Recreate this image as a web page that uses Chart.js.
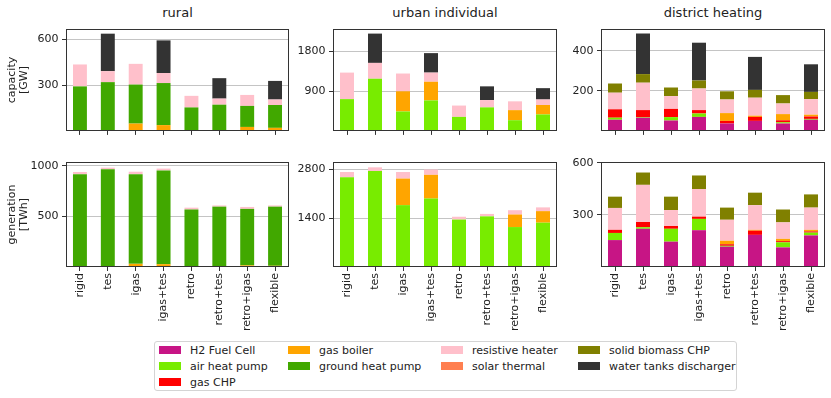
<!DOCTYPE html>
<html><head><meta charset="utf-8">
<script src="https://cdn.jsdelivr.net/npm/chart.js@4.4.1/dist/chart.umd.min.js"></script>
<style>
body{margin:0;background:#fff;width:831px;height:398px;position:relative;overflow:hidden;font-family:'DejaVu Sans',sans-serif;color:#222}
canvas{position:absolute}
.title{position:absolute;font-size:13px;line-height:15px;transform:translate(-50%,-50%);white-space:nowrap;color:#222}
#legend{position:absolute;left:154px;top:341px;width:583px;height:50px;border:1px solid #d4d4d4;border-radius:3px;box-sizing:border-box;background:#fff}
.lt{position:absolute;font-size:11px;line-height:13px;white-space:nowrap;color:#222}
.sw{position:absolute;width:22px;height:8px}
</style></head><body>
<div class="title" style="left:177.5px;top:11.5px">rural</div>
<div class="title" style="left:445px;top:11.5px">urban individual</div>
<div class="title" style="left:713px;top:11.5px">district heating</div>
<div id="legend"></div>
<script>
// ---------- data ----------
const scenarios = ['rigid','tes','igas','igas+tes','retro','retro+tes','retro+igas','flexible'];
const technologies = ['H2 Fuel Cell','air heat pump','gas CHP','gas boiler','ground heat pump','resistive heater','solar thermal','solid biomass CHP','water tanks discharger'];

// capacity [GW]
const capRuralGasBoiler  = [0,0,48,38,0,0,26,20];
const capRuralGroundHP   = [292,320,256,276,154,172,138,150];
const capRuralResistive  = [144,72,136,66,76,40,72,36];
const capRuralWaterTanks = [0,246,0,214,0,134,0,122];

const capUrbanAirHP      = [721,1184,442,692,318,534,243,374];
const capUrbanGasBoiler  = [0,0,457,423,0,0,228,214];
const capUrbanResistive  = [602,359,403,208,257,166,200,125];
const capUrbanWaterTanks = [0,665,0,442,0,311,0,257];

const capDistH2          = [56,66,52,70,37,50,37,56];
const capDistAirHP       = [10,3,17,17,0,0,6,4];
const capDistGasCHP      = [42,35,41,17,13,20,10,12];
const capDistGasBoiler   = [0,0,0,0,39,6,31,9];
const capDistResistive   = [83,137,64,108,68,90,53,78];
const capDistBiomass     = [46,43,43,40,41,39,42,36];
const capDistWaterTanks  = [0,203,0,189,0,165,0,138];

// generation [TWh]
const genRuralGasBoiler  = [0,0,31,28,0,0,16,12];
const genRuralGroundHP   = [917,966,886,926,568,596,558,584];
const genRuralResistive  = [21,15,24,18,18,12,19,12];

const genUrbanAirHP      = [2574,2754,1777,1965,1362,1454,1147,1273];
const genUrbanGasBoiler  = [0,0,762,681,0,0,360,331];
const genUrbanResistive  = [153,108,188,154,81,70,124,108];

const genDistH2          = [155,220,146,212,117,185,113,182];
const genDistAirHP       = [41,9,74,65,5,0,29,16];
const genDistGasCHP      = [18,30,16,13,9,24,7,7];
const genDistGasBoiler   = [0,0,0,0,20,5,13,9];
const genDistResistive   = [126,214,92,159,121,142,95,128];
const genDistBiomass     = [65,71,77,78,70,72,74,76];

// y tick labels
const capTicksRural = [300,600];
const capTicksUrban = [900,1800];
const capTicksDist  = [200,400];
const genTicksRural = [500,1000];
const genTicksUrban = [1400,2800];
const genTicksDist  = [300,600];

// ---------- styles ----------
const techColors = ['#c71585','#78ec00','#ff0000','#ffa500','#41a800','#ffc0cb','#ff7f50','#808000','#333333'];
const zeros = scenarios.map(()=>0);
const FONT = 'DejaVu Sans';

const framePlugin = {
  id:'frame',
  afterDraw(chart){
    const {ctx, chartArea:a} = chart;
    ctx.save();
    ctx.strokeStyle = '#333';
    ctx.lineWidth = 1;
    const l = Math.round(a.left)+0.5, t = Math.round(a.top)+0.5;
    const r = Math.round(a.right)-0.5, b = Math.round(a.bottom)-0.5;
    ctx.strokeRect(l, t, r-l, b-t);
    ctx.restore();
  }
};

function makePanel(p){
  const cv = document.createElement('canvas');
  cv.width = p.w; cv.height = p.h;
  cv.style.left = p.left+'px'; cv.style.top = p.top+'px';
  cv.style.width = p.w+'px'; cv.style.height = p.h+'px';
  document.body.appendChild(cv);
  const datasets = technologies.map((t,i)=>({
    label:t, data:p.series[t] || zeros, backgroundColor:techColors[i],
    borderWidth:0, barPercentage:0.5, categoryPercentage:1.0
  }));
  new Chart(cv, {
    type:'bar',
    data:{labels:scenarios, datasets},
    plugins:[framePlugin],
    options:{
      responsive:false, animation:false, devicePixelRatio:1,
      layout:{padding:{top:3,right:3,left:0,bottom:0}},
      plugins:{legend:{display:false}, tooltip:{enabled:false}},
      scales:{
        x:{
          stacked:true, offset:true,
          grid:{offset:false, drawOnChartArea:false, drawTicks:true, tickLength:4, tickColor:'#333', tickWidth:1},
          border:{display:false},
          ticks:{display:p.showX, autoSkip:false, minRotation:90, maxRotation:90, padding:2,
                 font:{family:FONT,size:11}, color:'#222'},
          afterFit(s){ s.height = p.hx; }
        },
        y:{
          stacked:true, min:0, max:p.max,
          grid:{color:'#c4c4c4', lineWidth:1, drawTicks:true, tickLength:4, tickColor:'#333'},
          border:{display:false},
          ticks:{padding:3.5, font:{family:FONT,size:11}, color:'#222', callback:v=>String(v)},
          afterBuildTicks(s){ s.ticks = p.ticks.map(v=>({value:v})); },
          title:{display:!!p.yTitle, text:p.yTitle||'', color:'#222',
                 font:{family:FONT,size:11,lineHeight:1.05}, padding:{top:6.4,bottom:0}},
          afterFit(s){ s.width = p.ly; }
        }
      }
    }
  });
}

const panels = [
  {left:0,   top:19, w:292, h:122, ly:66, hx:8, max:668, ticks:capTicksRural, yTitle:['capacity','[GW]'], showX:false,
   series:{'gas boiler':capRuralGasBoiler,'ground heat pump':capRuralGroundHP,'resistive heater':capRuralResistive,'water tanks discharger':capRuralWaterTanks}},
  {left:290, top:19, w:270, h:122, ly:43, hx:8, max:2310, ticks:capTicksUrban, showX:false,
   series:{'air heat pump':capUrbanAirHP,'gas boiler':capUrbanGasBoiler,'resistive heater':capUrbanResistive,'water tanks discharger':capUrbanWaterTanks}},
  {left:558, top:19, w:270, h:122, ly:43, hx:8, max:509, ticks:capTicksDist, showX:false,
   series:{'H2 Fuel Cell':capDistH2,'air heat pump':capDistAirHP,'gas CHP':capDistGasCHP,'gas boiler':capDistGasBoiler,'resistive heater':capDistResistive,'solid biomass CHP':capDistBiomass,'water tanks discharger':capDistWaterTanks}},
  {left:0,   top:152, w:292, h:190, ly:66, hx:75, max:1036, ticks:genTicksRural, yTitle:['generation','[TWh]'], showX:true,
   series:{'gas boiler':genRuralGasBoiler,'ground heat pump':genRuralGroundHP,'resistive heater':genRuralResistive}},
  {left:290, top:152, w:270, h:190, ly:43, hx:75, max:3012, ticks:genTicksUrban, showX:true,
   series:{'air heat pump':genUrbanAirHP,'gas boiler':genUrbanGasBoiler,'resistive heater':genUrbanResistive}},
  {left:558, top:152, w:270, h:190, ly:43, hx:75, max:604, ticks:genTicksDist, showX:true,
   series:{'H2 Fuel Cell':genDistH2,'air heat pump':genDistAirHP,'gas CHP':genDistGasCHP,'gas boiler':genDistGasBoiler,'resistive heater':genDistResistive,'solid biomass CHP':genDistBiomass}}
];
panels.forEach(makePanel);

// ---------- legend (column-major, 4 columns x 3 rows) ----------
const legend = document.getElementById('legend');
const colSw = [4, 133, 286, 423];   // relative to legend box
const colTx = [35, 164, 317, 454];
const rowCy = [8, 24, 40];
const perCol = [3,2,2,2];
let k = 0;
perCol.forEach((n,c)=>{
  for(let r=0;r<n;r++){
    const sw = document.createElement('div');
    sw.className='sw'; sw.style.left=colSw[c]+'px'; sw.style.top=(rowCy[r]-4)+'px';
    sw.style.background = techColors[k];
    const tx = document.createElement('div');
    tx.className='lt'; tx.style.left=colTx[c]+'px'; tx.style.top=(rowCy[r]-6.5)+'px';
    tx.textContent = technologies[k];
    legend.appendChild(sw); legend.appendChild(tx);
    k++;
  }
});
</script>
</body></html>
